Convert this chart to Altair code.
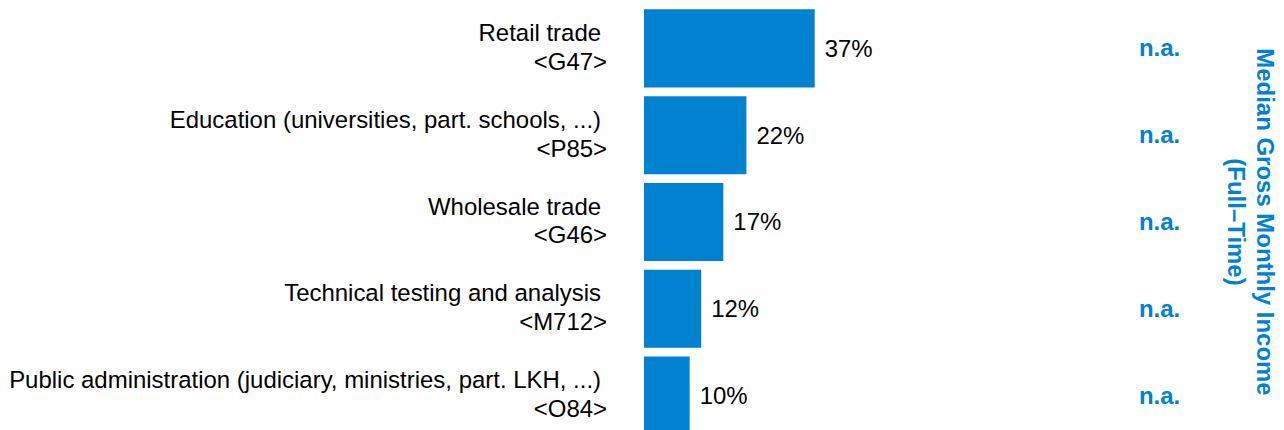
import altair as alt
import pandas as pd

industries = [
    "Retail trade",
    "Education (universities, part. schools, ...)",
    "Wholesale trade",
    "Technical testing and analysis",
    "Public administration (judiciary, ministries, part. LKH, ...)",
]
codes = ["<G47>", "<P85>", "<G46>", "<M712>", "<O84>"]
shares = [37.0, 22.2, 17.2, 12.4, 9.9]
share_labels = ["37%", "22%", "17%", "12%", "10%"]
income_labels = ["n.a.", "n.a.", "n.a.", "n.a.", "n.a."]
side_title = ["Median Gross Monthly Income", "(Full\u2013Time)"]

BLUE = "#0082D1"
FONT = "Liberation Sans"

df = pd.DataFrame({
    "industry": industries,
    "code": codes,
    "share": shares,
    "share_label": share_labels,
    "income": income_labels,
})

order = industries

y_enc = alt.Y(
    "industry:N",
    sort=order,
    scale=alt.Scale(paddingInner=0.1, paddingOuter=0),
    axis=None,
)

# plot area spans the full width; the zero of the share scale sits right of the labels
x_scale = alt.Scale(domain=[-137.6, 136.75], nice=False, zero=False)

base = alt.Chart(df)

bars = base.mark_bar(color=BLUE).encode(
    y=y_enc,
    x=alt.X("share:Q", scale=x_scale, axis=None),
    x2=alt.datum(0),
)

names = base.mark_text(
    align="right", baseline="middle", dy=-14.5, font=FONT, fontSize=24, color="#000000"
).encode(
    y=alt.Y("industry:N", sort=order),
    x=alt.value(593),
    text="industry:N",
)

code_text = base.mark_text(
    align="right", baseline="middle", dy=14.5, font=FONT, fontSize=24, color="#000000"
).encode(
    y=alt.Y("industry:N", sort=order),
    x=alt.value(599),
    text="code:N",
)

values = base.mark_text(
    align="left", baseline="middle", dx=10, dy=1.5, font=FONT, fontSize=24, color="#000000"
).encode(
    y=alt.Y("industry:N", sort=order),
    x=alt.X("share:Q", scale=x_scale),
    text="share_label:N",
)

income = base.mark_text(
    align="right", baseline="middle", dy=1, font=FONT, fontSize=24, fontWeight="bold", color=BLUE
).encode(
    y=alt.Y("industry:N", sort=order),
    x=alt.value(1173),
    text="income:N",
)

title_mark = alt.Chart(pd.DataFrame({"t": [0]})).mark_text(
    align="center", baseline="middle", angle=90, font=FONT, fontSize=24,
    fontWeight="bold", color=BLUE, lineHeight=29,
).encode(
    x=alt.value(1257),
    y=alt.value(213),
    text=alt.value(side_title),
)

chart = alt.layer(bars, names, code_text, values, income, title_mark).properties(
    width=1268,
    height=426,
    padding={"left": 0, "top": 0, "right": 0, "bottom": 0},
).configure_view(stroke=None)

chart.save("out.html", embed_options={"renderer": "svg", "actions": False})
